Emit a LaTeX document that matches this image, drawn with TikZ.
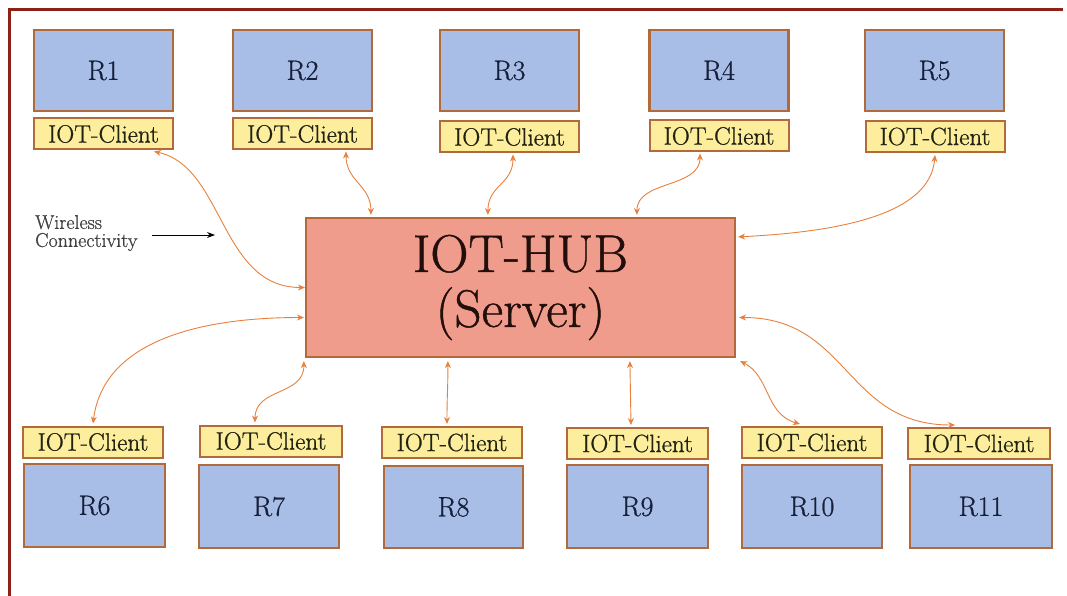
\documentclass[tikz,border=0pt]{standalone}
\usepackage{fontspec}
\usetikzlibrary{arrows.meta,calc}
% slightly heavier serif for the box labels
\newfontface\heavyserif{Latin Modern Roman}[FakeBold=0.8]
\definecolor{routerfill}{HTML}{A9BEE6}
\definecolor{clientfill}{HTML}{FDEE9E}
\definecolor{hubfill}{HTML}{F09C8C}
\definecolor{boxedge}{HTML}{B36A3A}
\definecolor{linkcol}{HTML}{E8803C}
\definecolor{framecol}{HTML}{8B2215}
\definecolor{routertext}{HTML}{16203A}
\definecolor{clienttext}{HTML}{222212}
\definecolor{hubtext}{HTML}{220E0A}
\tikzset{
  router/.style={draw=boxedge, line width=2.2pt, fill=routerfill, minimum width=139pt,
    minimum height=81pt, inner sep=0pt, text=routertext, font=\heavyserif\fontsize{28}{32}\selectfont},
  client/.style={draw=boxedge, line width=2pt, fill=clientfill, minimum width=139pt,
    minimum height=31pt, inner sep=0pt, text=clienttext, font=\heavyserif\fontsize{25}{28}\selectfont},
  hubbox/.style={draw=boxedge, line width=2.2pt, fill=hubfill, minimum width=429pt,
    minimum height=139pt, inner sep=0pt, align=center, text=hubtext,
    font=\heavyserif\fontsize{53}{55}\selectfont},
  link/.style={draw=linkcol, line width=0.9pt,
    {Stealth[length=7pt,width=6pt]}-{Stealth[length=7pt,width=6pt]}},
}
\begin{document}
\begin{tikzpicture}[x=1pt,y=-1pt]
\useasboundingbox (0,0) rectangle (1067,596);
% page frame
\draw[framecol, line width=3pt] (9,596) -- (9,10) -- (1063,10);

% upper row of routers with their clients
\node[router] (r1) at (103.5,70.5) {R1};
\node[router] (r2) at (302.5,70.5) {R2};
\node[router] (r3) at (509.5,70.5) {R3};
\node[router] (r4) at (719,70.5) {R4};
\node[router] (r5) at (934.5,70.5) {R5};
\node[client] (c1) at (103.5,134) {IOT-Client};
\node[client] (c2) at (302.5,134) {IOT-Client};
\node[client] (c3) at (509.5,137) {IOT-Client};
\node[client] (c4) at (719,136) {IOT-Client};
\node[client] (c5) at (935,136.5) {IOT-Client};

% central hub
\node[hubbox] (hub) at (520.5,287.5) {IOT-HUB\\(Server)};

% lower row of clients with their routers
\node[client, minimum width=140pt] (c6) at (93,442) {IOT-Client};
\node[client, minimum width=142pt] (c7) at (271,441) {IOT-Client};
\node[client, minimum width=140pt] (c8) at (452,442.5) {IOT-Client};
\node[client, minimum width=141pt] (c9) at (637.5,443.5) {IOT-Client};
\node[client, minimum width=140pt] (c10) at (812,442.5) {IOT-Client};
\node[client, minimum width=142pt] (c11) at (979,443.5) {IOT-Client};
\node[router, minimum width=141pt, minimum height=83pt] (r6) at (94.5,505.5) {R6};
\node[router, minimum width=140pt, minimum height=83pt] (r7) at (269,506.5) {R7};
\node[router, minimum width=139pt, minimum height=82pt] (r8) at (453.5,507) {R8};
\node[router, minimum width=141pt, minimum height=83pt] (r9) at (637.5,506.5) {R9};
\node[router, minimum width=140pt, minimum height=83pt] (r10) at (812,506.5) {R10};
\node[router, minimum width=142pt, minimum height=83pt] (r11) at (981,506.5) {R11};

% legend
\node[anchor=west, align=left, inner sep=0pt, text=black!75,
      font=\heavyserif\fontsize{20}{18}\selectfont] (wl) at (35,233) {Wireless\\Connectivity};
\coordinate (wtip) at (215,235);
\draw[black, line width=1pt, -{Stealth[length=8pt,width=6pt]}]
  ($(wl.east)+(14,2)$) -- (wtip);

% wireless links between the hub and the clients
\draw[link] ($(c1.south east)+(-20,1)$) .. controls +(70,15) and +(-85,0) .. (hub.west);
\draw[link] ($(c2.south east)+(-27,1)$) .. controls +(0,30) and +(0,-30) .. ($(hub.north west)+(66,-2)$);
\draw[link] ($(c3.south)+(3.5,1)$) .. controls +(0,30) and +(0,-30) .. ($(hub.north west)+(183,-2)$);
\draw[link] ($(c4.south)+(-19,1)$) .. controls +(0,35) and +(0,-35) .. ($(hub.north west)+(332,-2)$);
\draw[link] ($(c5.south)+(0,2)$) .. controls +(-5,60) and +(100,-5) .. ($(hub.north east)+(2,20)$);
\draw[link] ($(hub.west)+(-1,30)$) .. controls +(-110,0) and +(10,-80) .. ($(c6.north)+(0,-2)$);
\draw[link] ($(hub.south west)+(-1,3)$) .. controls +(0,35) and +(0,-35) .. ($(c7.north)+(-16,-2)$);
\draw[link] ($(hub.south west)+(143,3)$) .. controls +(0,30) and +(0,-30) .. ($(c8.north)+(-5,-2)$);
\draw[link] ($(hub.south west)+(325,3)$) -- ($(c9.north)+(-6.5,-2)$);
\draw[link] ($(hub.south east)+(4,3)$) .. controls +(30,15) and +(-35,-10) .. ($(c10.north)+(-12,-2)$);
\draw[link] ($(hub.east)+(3,30)$) .. controls +(110,0) and +(-110,0) .. ($(c11.north)+(-24,-2)$);
\end{tikzpicture}
\end{document}
